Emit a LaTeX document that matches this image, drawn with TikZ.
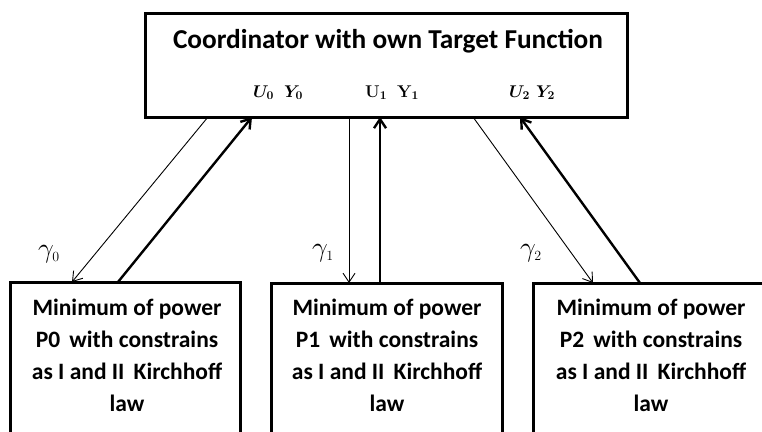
\RequirePackage{fix-cm}
\documentclass[tikz,border=0pt]{standalone}
\usepackage[no-math]{fontspec}
\usepackage{amsmath}
\newfontfamily\boxfont{Carlito}
\usetikzlibrary{arrows.meta,calc}

\begin{document}
\begin{tikzpicture}[x=1pt,y=-1pt,
  box/.style={draw, line width=3pt, rectangle, inner sep=0pt, outer sep=0pt},
  titletext/.style={font=\boxfont\bfseries\fontsize{27.3}{30}\selectfont, inner sep=0pt},
  boxtext/.style={font=\boxfont\bfseries\fontsize{23.5}{32}\selectfont, align=center, inner sep=0pt},
  sig/.style={font=\fontsize{17}{19}\selectfont, inner sep=0pt},
  gam/.style={font=\fontsize{28}{30}\selectfont, inner sep=0pt},
  feed/.style={line width=0.9pt, -{Straight Barb[length=9pt,width=12pt]}},
  resp/.style={line width=2.4pt, -{Straight Barb[length=9pt,width=12pt]}}]

\useasboundingbox (0,0) rectangle (762,431);
\clip (0,0) rectangle (762,431);

% coordinator
\node[box, minimum width=482pt, minimum height=104pt] (coord) at (386,65) {};
\node[titletext, anchor=base] (title) at (388,48) {Coordinator with own Target Function};
\node[sig, anchor=base] (s0) at (278,97) {$\boldsymbol{U_0}\hspace{10pt}\boldsymbol{Y_0}$};
\node[sig, anchor=base] (s1) at (392,97) {$\mathbf{U_1}\hspace{10pt}\mathbf{Y_1}$};
\node[sig, anchor=base] (s2) at (532,97) {$\boldsymbol{U_2}\hspace{6pt}\boldsymbol{Y_2}$};

% local subproblems (boxes run past the lower edge)
\node[box, minimum width=230pt, minimum height=300pt] (b0) at (125,432) {};
\node[box, minimum width=231pt, minimum height=300pt] (b1) at (386.5,433) {};
\node[box, minimum width=236pt, minimum height=300pt] (b2) at (651,433) {};

\node[boxtext, anchor=north] (t0) at (127,299) {Minimum of power\\P0\, with constrains\\as I and II\, Kirchhoff\\law};
\node[boxtext, anchor=north] (t1) at (387,299) {Minimum of power\\P1\, with constrains\\as I and II\, Kirchhoff\\law};
\node[boxtext, anchor=north] (t2) at (651,299) {Minimum of power\\P2\, with constrains\\as I and II\, Kirchhoff\\law};

% coordination signals down, responses up
\draw[feed] ([xshift=63pt]coord.south west) -- ([xshift=62pt]b0.north west);
\draw[resp] ([xshift=108pt]b0.north west) -- ([xshift=107pt]coord.south west);
\draw[feed] ([xshift=204pt]coord.south west) -- ([xshift=78pt]b1.north west);
\draw[resp] ([xshift=109pt]b1.north west) -- ([xshift=235pt]coord.south west);
\draw[feed] ([xshift=328pt]coord.south west) -- ([xshift=60pt]b2.north west);
\draw[resp] ([xshift=107pt]b2.north west) -- ([xshift=375pt]coord.south west);

\node[gam] (g0) at (49,254) {$\gamma_{\scriptscriptstyle 0}$};
\node[gam] (g1) at (323,253) {$\gamma_{\scriptscriptstyle 1}$};
\node[gam] (g2) at (531,253) {$\gamma_{\scriptscriptstyle 2}$};
\end{tikzpicture}
\end{document}
